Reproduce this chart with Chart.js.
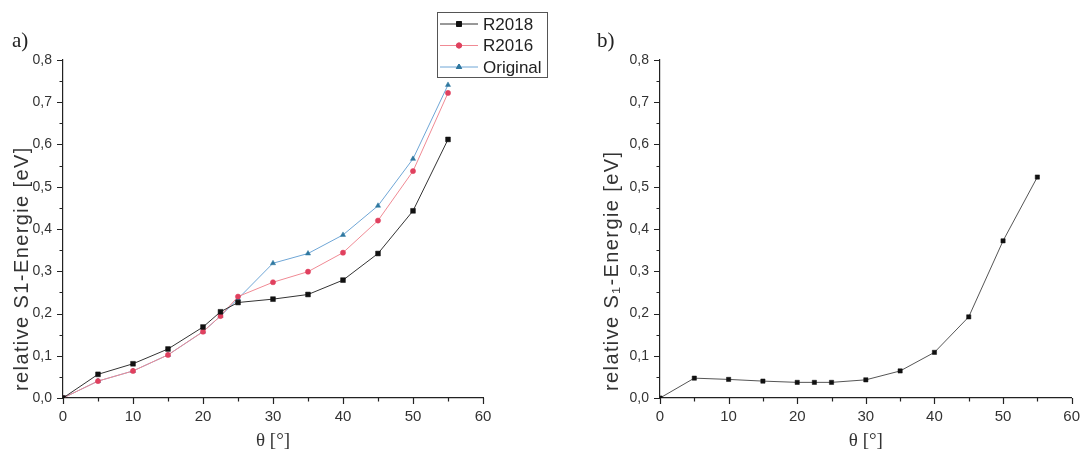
<!DOCTYPE html>
<html>
<head>
<meta charset="utf-8">
<script src="https://cdn.jsdelivr.net/npm/chart.js@4.4.1/dist/chart.umd.min.js"></script>
<style>
  html, body { margin: 0; padding: 0; background: #fff; }
  #wrap { position: relative; width: 1090px; height: 455px; overflow: hidden; }
  canvas { position: absolute; top: 0; }
  #chartA { left: 0; }
  #chartB { left: 590px; }
  .panel { position: absolute; font-family: "Liberation Serif", serif; font-size: 21px; color: #222; }
</style>
</head>
<body>
<div id="wrap">
  <canvas id="chartA" width="590" height="455"></canvas>
  <canvas id="chartB" width="500" height="455"></canvas>
  <div class="panel" style="left:12px; top:28px;">a)</div>
  <div class="panel" style="left:597px; top:28px;">b)</div>
</div>
<script>
// angles (deg) shared by all series
const angles = [0, 5, 10, 15, 20, 22.5, 25, 30, 35, 40, 45, 50, 55];

// panel a)
const r2018 = [0, 0.056, 0.081, 0.116, 0.168, 0.204, 0.226, 0.234, 0.245, 0.279, 0.342, 0.443, 0.612];
const r2016 = [0, 0.040, 0.064, 0.102, 0.157, 0.194, 0.240, 0.274, 0.299, 0.344, 0.420, 0.537, 0.722];
const original = [0, 0.040, 0.064, 0.102, 0.157, 0.194, 0.235, 0.319, 0.342, 0.386, 0.455, 0.566, 0.741];

// panel b)
const s1Energy = [0, 0.047, 0.044, 0.040, 0.037, 0.037, 0.037, 0.043, 0.064, 0.108, 0.192, 0.372, 0.523];

const xTicks = [0, 10, 20, 30, 40, 50, 60];
const yTicks = [0, 0.1, 0.2, 0.3, 0.4, 0.5, 0.6, 0.7, 0.8];

const textColor = '#333';
const axisColor = '#222';

const toPoints = vals => vals.map((v, i) => ({ x: angles[i], y: v }));
const fmtComma = v => v.toFixed(1).replace('.', ',');

// outward major + minor tick marks drawn through the scales
const tickMarks = {
    id: 'tickMarks',
    beforeDraw(chart) {
        // the original y title is set a bit wider than the font alone gives
        const y = chart.scales.y;
        if (y && !y._spaced) {
            const orig = y.drawTitle;
            y.drawTitle = function () {
                const ctx = this.ctx;
                ctx.save();
                ctx.letterSpacing = '1.4px';
                orig.call(this);
                ctx.restore();
            };
            y._spaced = true;
        }
    },
    afterDraw(chart) {
        const { ctx, chartArea, scales } = chart;
        ctx.save();
        ctx.strokeStyle = axisColor;
        ctx.lineWidth = 1.2;
        ctx.beginPath();
        for (let v = 0; v <= 60; v += 5) {
            const px = Math.round(scales.x.getPixelForValue(v)) + 0.5;
            const len = v % 10 === 0 ? 6 : 3.5;
            ctx.moveTo(px, chartArea.bottom);
            ctx.lineTo(px, chartArea.bottom + len);
        }
        for (let i = 0; i <= 16; i++) {
            const v = i * 0.05;
            const py = Math.round(scales.y.getPixelForValue(v)) + 0.5;
            const len = i % 2 === 0 ? 6 : 3.5;
            ctx.moveTo(chartArea.left, py);
            ctx.lineTo(chartArea.left - len, py);
        }
        ctx.stroke();
        ctx.restore();
    }
};

// framed legend like the original, built from the datasets
const boxLegend = {
    id: 'boxLegend',
    afterDraw(chart, args, opts) {
        if (!opts.display) return;
        const { ctx } = chart;
        const { x, y, w, h, rowH } = opts;
        ctx.save();
        ctx.fillStyle = '#fff';
        ctx.fillRect(x, y, w, h);
        ctx.strokeStyle = '#555';
        ctx.lineWidth = 1;
        ctx.strokeRect(x + 0.5, y + 0.5, w, h);
        ctx.font = '17px "Liberation Sans", Arial, sans-serif';
        ctx.textBaseline = 'middle';
        chart.data.datasets.forEach((ds, i) => {
            const cy = y + 12 + i * rowH;
            ctx.strokeStyle = ds.borderColor;
            ctx.lineWidth = 1;
            ctx.beginPath();
            ctx.moveTo(x + 3, cy);
            ctx.lineTo(x + 41, cy);
            ctx.stroke();
            Chart.helpers.drawPoint(ctx, {
                pointStyle: ds.pointStyle,
                radius: ds.pointRadius,
                rotation: 0,
                borderWidth: 1
            }, x + 22, cy);
            ctx.fillStyle = ds.pointBackgroundColor;
            ctx.strokeStyle = ds.pointBorderColor;
            ctx.fill();
            ctx.stroke();
            ctx.fillStyle = '#222';
            ctx.fillText(ds.label, x + 46, cy + 1);
        });
        ctx.restore();
    }
};

function axes(yTitle, yWidth, yTitlePad) {
    return {
        x: {
            type: 'linear',
            min: 0, max: 60,
            afterFit: s => { s.height = 57; },
            afterBuildTicks: s => { s.ticks = xTicks.map(v => ({ value: v })); },
            border: { display: true, color: axisColor, width: 1.2 },
            grid: { display: false, drawTicks: false },
            ticks: {
                color: textColor, padding: 10,
                font: { family: '"Liberation Sans", Arial, sans-serif', size: 15 }
            },
            title: {
                display: true, text: 'θ [°]', color: textColor,
                padding: { top: 0, bottom: 3 },
                font: { family: '"Liberation Serif", serif', size: 19 }
            }
        },
        y: {
            type: 'linear',
            min: 0, max: 0.8,
            afterFit: s => { s.width = yWidth; },
            afterBuildTicks: s => { s.ticks = yTicks.map(v => ({ value: v })); },
            border: { display: true, color: axisColor, width: 1.2 },
            grid: { display: false, drawTicks: false },
            ticks: {
                color: textColor, padding: 11,
                callback: v => fmtComma(v),
                font: { family: '"Liberation Sans", Arial, sans-serif', size: 14 }
            },
            title: {
                display: true, text: ' ' + yTitle, color: textColor, align: 'start',
                padding: { top: yTitlePad, bottom: 0 },
                font: { family: '"Liberation Sans", Arial, sans-serif', size: 20 }
            }
        }
    };
}

const common = {
    responsive: false,
    animation: false,
    plugins: { legend: { display: false }, tooltip: { enabled: false } }
};

new Chart(document.getElementById('chartA'), {
    type: 'line',
    data: {
        datasets: [
            {
                label: 'R2018', data: toPoints(r2018),
                borderColor: '#333', borderWidth: 1,
                pointStyle: 'rect', pointRadius: 3.4,
                pointBackgroundColor: '#111', pointBorderColor: '#111', pointBorderWidth: 0.5
            },
            {
                label: 'R2016', data: toPoints(r2016),
                borderColor: '#f08a94', borderWidth: 1,
                pointStyle: 'circle', pointRadius: 2.6,
                pointBackgroundColor: '#e0405e', pointBorderColor: '#e0405e', pointBorderWidth: 0.5
            },
            {
                label: 'Original', data: toPoints(original),
                borderColor: '#6fa6d6', borderWidth: 1,
                pointStyle: 'triangle', pointRadius: 3,
                pointBackgroundColor: '#2f78a0', pointBorderColor: '#2f78a0', pointBorderWidth: 0.5
            }
        ]
    },
    options: {
        ...common,
        layout: { padding: { top: 60, right: 107, left: 0, bottom: 0 } },
        scales: axes('relative S1-Energie [eV]', 63, 10),
        plugins: {
            ...common.plugins,
            boxLegend: { display: true, x: 437, y: 12, w: 110, h: 65, rowH: 21.5 }
        }
    },
    plugins: [tickMarks, boxLegend]
});

new Chart(document.getElementById('chartB'), {
    type: 'line',
    data: {
        datasets: [
            {
                label: 'S1', data: toPoints(s1Energy),
                borderColor: '#555', borderWidth: 1,
                pointStyle: 'rect', pointRadius: 3,
                pointBackgroundColor: '#111', pointBorderColor: '#111', pointBorderWidth: 0.5
            }
        ]
    },
    options: {
        ...common,
        layout: { padding: { top: 60, right: 11, left: 0, bottom: 0 } },
        scales: axes('relative S\u2081-Energie [eV]', 70, 10),
        plugins: {
            ...common.plugins,
            boxLegend: { display: false }
        }
    },
    plugins: [tickMarks, boxLegend]
});
</script>
</body>
</html>
